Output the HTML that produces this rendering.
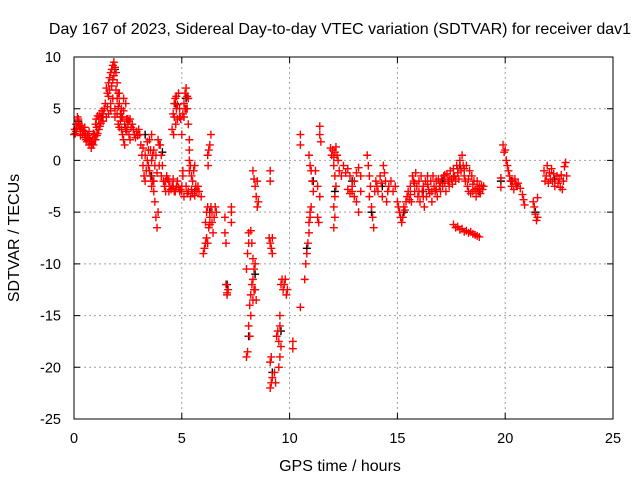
<!DOCTYPE html>
<html><head><meta charset="utf-8">
<style>
html,body{margin:0;padding:0;background:#fff;}
svg{display:block;font-family:"Liberation Sans",sans-serif;}
</style></head>
<body>
<svg id="chart" width="640" height="480" viewBox="0 0 640 480" xmlns="http://www.w3.org/2000/svg">
<rect width="640" height="480" fill="#fff"/>
<text x="340" y="34" text-anchor="middle" font-size="16">Day 167 of 2023, Sidereal Day-to-day VTEC variation (SDTVAR) for receiver dav1</text>
<text x="340" y="471" text-anchor="middle" font-size="16">GPS time / hours</text>
<text transform="translate(19,238) rotate(-90)" text-anchor="middle" font-size="16">SDTVAR / TECUs</text>
<g id="grid"></g>
<g id="ticks"></g>
<g id="black"></g>
<g id="red"></g>
<rect x="74" y="57" width="539" height="362" fill="none" stroke="#000" stroke-width="1"/>
</svg>
<script>
const xTicks = [0,5,10,15,20,25];
const yTicks = [10,5,0,-5,-10,-15,-20,-25];
const redPoints = [
[0,2.5],[0.03,3],[0.06,2.6],[0.1,3.5],[0.13,3.1],[0.16,4.2],[0.2,4],[0.23,3.6],[0.26,3.3],[0.3,3],[0.33,3.4],[0.36,3.2],[0.4,2.5],[0.43,2.9],[0.46,2.8],[0.5,2.2],[0.53,2.6],[0.56,2],[0.6,1.8],[0.63,2.4],[0.66,2.2],[0.7,1.5],[0.73,2],[0.76,1.8],[0.8,1.2],[0.83,1.6],[0.86,2],[0.9,1.5],[0.93,2],[0.96,2.5],[1,3.5],[1,2],[1.03,4],[1.06,2.4],[1.1,4.3],[1.1,2.6],[1.15,4],[1.15,3],[1.2,4.5],[1.2,3.3],[1.25,4.2],[1.3,4.8],[1.35,4.5],[1.4,5],[1.45,5.5],[1.5,7],[1.5,4.2],[1.55,6.5],[1.6,7.5],[1.6,4.5],[1.65,8],[1.7,8.5],[1.7,5.5],[1.75,8.8],[1.8,9.2],[1.8,6],[1.85,9.5],[1.9,9],[1.9,5],[1.95,8.5],[2,7.5],[2,4.5],[2.05,6.5],[2.05,3.5],[2.1,5.5],[2.1,6.5],[2.15,4.5],[2.2,3],[2.2,5],[2.25,2.5],[2.3,2],[2.3,6],[2.35,1.5],[2.4,3],[2.4,5.5],[2.45,4],[2.5,3.5],[2.5,4],[2.55,2.5],[2.6,4],[2.6,2],[2.65,3.2],[2.7,3.5],[2.75,3],[2.8,2.5],[2.85,2.2],[2.9,2.8],[2.95,2.4],[3,3],
[0.1,2.8],[0.3,2.4],[0.5,3.2],[0.7,2.8],[0.9,2.6],[1.05,3.2],[1.25,3.6],[1.35,3.8],[1.55,5.2],[1.6,6.2],[1.65,6.8],[1.75,7.2],[1.8,7.8],[1.85,8.2],[1.95,6.8],[2,6],[2.05,5.2],[2.15,3.8],[2.25,4.2],[2.35,3.5],[2.45,2.8],[2.55,3.8],[1.7,4.8],[1.9,4.2],[2.1,3.2],[2.2,4.2],[2.3,4.8],
[3.05,2.5],[3.1,1.5],[3.15,0.5],[3.2,-0.5],[3.25,-1.5],[3.3,-2],[3.35,-1],[3.4,0],[3.45,1],[3.5,2],[3.5,-1],[3.55,1],[3.6,0],[3.6,2.5],[3.6,-2.5],[3.65,-2],[3.7,-3],[3.7,1],[3.7,-2],[3.75,-4],[3.8,-5.5],[3.8,0.5],[3.85,-6.5],[3.9,-5],[3.9,2],[3.95,1.5],[4,1.5],[4.05,0.5],[4.1,-0.5],[4.15,-2],[4.2,-2.5],[4.25,-2],[4.3,-1.5],[4.35,-1.8],[4.4,-2],[4.45,-2.5],[4.5,-2.8],[4.55,-2.5],[4.6,-2.5],[4.65,-3],[4.7,-3],[4.75,-2.5],[4.8,-2],[4.85,-2.6],[4.9,-3],[4.95,-2.8],[5,-2.5],[5.05,-1.5],
[3.2,1.2],[3.3,0.5],[3.4,1.8],[3.45,-0.5],[3.55,-1.5],[3.65,0.5],[3.75,-0.5],[3.85,-1.2],[3.95,-0.5],[4.05,-1.5],[4.25,-3],[4.4,-3],[4.6,-1.8],
[4.55,3],[4.6,4.5],[4.62,2.5],[4.65,5.5],[4.7,6],[4.72,3.5],[4.75,5],[4.8,4],[4.85,6.5],[4.9,5],[4.95,4],[5,2.5],[5.05,-1],[5.1,5.5],[5.15,6.5],[5.2,7],[5.2,5],[5.25,5],[5.3,3.5],[5.3,6],[5.35,2],[5.35,1],[5.35,0],[5.35,-1],[5.4,-0.5],[5.45,-1.5],[5.5,-2],[5.55,-1],[5.6,-0.5],[5.65,-2.5],[5.7,-3],[5.8,-3],[5.9,-3.5],[5,-3],[5.1,-3.5],[5.2,-2.5],[5.3,-3],[5.4,-3.5],[5.5,-3.2],[5.6,-3.4],
[4.65,4.2],[4.75,6.2],[4.8,5.4],[4.9,4.2],[5.05,4.5],[5.1,4.2],[5.25,6.2],[5.15,5],[5.25,-3.2],[5.45,-2.8],[5.75,-2.5],
[6,-9],[6.05,-8.5],[6.1,-8],[6.1,-6],[6.15,-7.5],[6.15,-5],[6.2,-8],[6.2,-4.5],[6.25,-6.5],[6.3,-5.5],[6.35,-4.5],[6.4,-6],[6.45,-7],[6.5,-5.5],[6.55,-4.5],[6.6,-5],[6.2,0.5],[6.22,-0.5],[6.25,1],[6.3,1.5],[6.35,2.5],[6.3,-6.2],[6.4,-5],
[7,-5.5],[7,-7],[7.05,-8],[7.05,-12],[7.1,-13],[7.15,-12.5],[7.1,-12.8],[7.3,-4.5],[7.3,-6],[7.3,-5],
[8,-10.5],[8.05,-9],[8.1,-8],[8.1,-7],[8.2,-6.8],[8.25,-8],[8.3,-9.5],[8.35,-10.5],[8.4,-10],[8.15,-14],[8.2,-13],[8.25,-12],[8.3,-11.5],[8.35,-12.5],[8.1,-16],[8.05,-18.5],[8,-19],[8.15,-17],[8.2,-15],[8.3,-13.5],[8.4,-12.5],[8.45,-13.5],[8.3,-1],[8.35,-1.8],[8.4,-2.5],[8.45,-3.5],[8.5,-4.5],[8.55,-4],[8.5,-2],
[9.1,-1],[9.1,-2],[9.05,-7.5],[9.1,-8],[9.15,-8.5],[9.2,-9],[9.2,-7.5],[9.1,-19.5],[9.15,-19],[9.1,-22],[9.15,-21.5],[9.2,-21],[9.3,-20.5],[9.35,-21.5],[9.4,-17],[9.45,-16.5],[9.5,-17.5],[9.55,-16],[9.5,-20],[9.55,-19],[9.6,-18],[9.55,-15],[9.6,-12],[9.65,-11.5],[9.7,-12.5],[9.75,-12],[9.8,-11.5],[9.85,-13],[9.9,-12.5],[10.15,-17.5],[10.15,-18.2],[10.5,-14.2],
[10.5,2.5],[10.5,1.5],[10.7,-11.5],[10.75,-10],[10.8,-9],[10.85,-8],[10.9,-7],[10.9,-6],[10.95,-5],[10.95,-5.5],[11,-4.5],[10.9,0.5],[10.95,-0.5],[11,-1],[11.05,-2],[11.1,-3],[11.2,-1],[11.3,-2.5],[11.4,-3.5],[11.4,3.3],[11.4,2.5],[11.45,1.8],[11.3,-5.5],[11.35,-6],
[11.9,1.2],[11.95,0.5],[12,1],[12.05,0.3],[12.1,0.8],[12.15,1.3],[12.2,0.5],[12.25,0],[12.05,-0.5],[12.1,-1.5],[12.15,-2.5],[12.1,-3.5],[12.05,-4.5],[12.1,-5.5],[12.05,-6.5],[12.3,-1],[12.4,-1.5],[12.5,-0.5],[12.6,-1.2],[12.7,-0.8],[12.8,-1.5],[12.9,-2.5],[13,-2],[13.1,-1.2],[13.2,-0.7],[13.3,-1.5],[12.7,-2.8],[12.8,-3.2],[12.9,-3],[13,-3.5],[13.1,-4],[13.2,-5],[13.3,-3],
[13.6,0.5],[13.65,-0.5],[13.7,-1.5],[13.75,-2.5],[13.7,-3.5],[13.8,-4.5],[13.85,-5.5],[13.9,-6.5],[13.95,-3],[14,-2],[14.05,-2.5],[14.1,-3],[14.2,-1.5],[14.25,-2.2],[14.3,-3.5],[14.35,-0.5],[14.4,-1.2],[14.45,-2],[14.5,-4],[14.55,-3],[14.6,-2.5],[14.7,-2],[14.8,-3],[14.9,-2.5],
[15,-4],[15.05,-4.5],[15.1,-5],[15.15,-5.5],[15.2,-6],[15.25,-5.5],[15.3,-4.5],[15.35,-4.8],[15.4,-4],[15.45,-3.5],[15.5,-3],[15.55,-3.8],[15.6,-2.5],[15.65,-4],[15.7,-1.5],[15.75,-2],[15.8,-3],[15.85,-1.2],[15.9,-2.5],[15.95,-3.5],[16,-2],[16.05,-4],[16.1,-1.5],[16.15,-3],[16.2,-2.5],[16.25,-4.5],[16.3,-2],[16.35,-3.5],[16.4,-1.5],[16.45,-2.8],[16.5,-3.2],[16.55,-2],[16.6,-4],[16.65,-1.5],[16.7,-2.5],[16.75,-3],[16.8,-2],[16.85,-3.5],[16.9,-1.8],[16.95,-2.5],[17,-3],[17.05,-1.8],[17.1,-2.5],[17.15,-1.5],[17.2,-2.2],[17.25,-3],[17.3,-1.3],[17.35,-2],[17.4,-2.5],[17.45,-1],[17.5,-1.8],[17.55,-2.3],[17.6,-0.8],[17.65,-1.5],[17.7,-2],[17.75,-0.5],[17.8,-1.2],[17.85,-1.8],[17.9,0],[17.95,-1],[18,0.5],[18.05,-0.5],[18.1,-1.5],[18.15,-2],[18.2,-0.5],[18.25,-2.5],[18.3,-3],[18.35,-1],[18.4,-3.2],[18.45,-1.5],[18.5,-3],[18.55,-2],[18.6,-2.8],[18.65,-3.5],[18.7,-2],[18.75,-3],[18.8,-2.5],[18.85,-3.2],[18.9,-2.4],[18.95,-2.8],[19,-2.5],
[15.6,-3.3],[15.8,-2.2],[16,-3],[16.2,-3.5],[16.4,-2.3],[16.6,-3],[16.8,-2.8],[17,-2.2],[17.2,-1.4],[17.4,-1.8],[17.6,-1.6],[17.8,-0.8],[18.1,-0.8],[18.3,-1.8],[18.5,-2.3],[18.7,-2.7],
[17.6,-6.2],[17.7,-6.5],[17.8,-6.4],[17.9,-6.7],[18,-6.6],[18.1,-6.9],[18.2,-6.8],[18.3,-7],[18.4,-6.9],[18.5,-7.1],[18.6,-7.2],[18.7,-7.3],[18.8,-7.4],
[19.8,-1.7],[19.8,-2.6],[19.9,1.5],[19.95,0.8],[20,1],[20.05,0],[20.1,-0.5],[20.15,-1],[20.2,-1.5],[20.25,-2],[20.3,-2.5],[20.35,-2],[20.4,-2.8],[20.45,-1.8],[20.5,-2.3],[20.55,-2.5],[20.6,-2.2],[20.7,-2.7],
[20.8,-3.3],[20.85,-3.8],[20.9,-4.3],[21.3,-4],[21.35,-4.5],[21.4,-5.2],[21.45,-5.8],[21.5,-5.5],[21.5,-3.6],
[21.8,-1],[21.85,-2],[21.9,-1.5],[21.95,-0.5],[22,-2.2],[22.05,-1.2],[22.1,-1.8],[22.15,-0.8],[22.2,-2],[22.25,-1.3],[22.3,-2.5],[22.4,-1.5],[22.45,-2.2],[22.5,-1.8],[22.55,-2.6],[22.6,-1.4],[22.65,-2.8],[22.7,-2],[22.75,-0.6],[22.8,-0.2],[22.85,-1.5]
];
const blackPoints = [
[0.2,3.8],[0.8,1.8],[1.3,4.2],[1.9,8.8],[2.4,3.2],[3.3,2.5],[3.6,-1.5],[4.1,0.8],[4.7,5.5],[5.2,6],[5.6,-3],[6.3,-5],[7.1,-12],[8.1,-17],[8.4,-11],[9.2,-20.5],[9.6,-16.5],[10.8,-8.5],[11.1,-2],[12.1,-3],[12.9,-2],[13.8,-5],[14.3,-2.5],[15.3,-5],[16.2,-3],[17.1,-2],[17.9,-0.5],[18.8,-3],[19.8,-2],[20.3,-2],[21.4,-5],[22.3,-1.8]
];
const NS='http://www.w3.org/2000/svg';
const X0=74,X1=613,Y0=419,Y1=57;
function xs(t){return X0+(t-0)/(25-0)*(X1-X0);}
function ys(v){return Y0-(v-(-25))/(10-(-25))*(Y0-Y1);}
const grid=document.getElementById('grid');
const ticks=document.getElementById('ticks');
function mk(tag,attrs,parent){const e=document.createElementNS(NS,tag);for(const k in attrs)e.setAttribute(k,attrs[k]);parent.appendChild(e);return e;}
xTicks.forEach(t=>{
  const x=xs(t);
  if(t>0&&t<25){const g=mk('line',{x1:x,y1:Y0,x2:x,y2:Y1,stroke:'#a0a0a0','stroke-dasharray':'2,3','stroke-width':1},grid);
  
  }
  const tk=mk('path',{d:`M${x},${Y0}v-6M${x},${Y1}v6`,stroke:'#000'},ticks);
  
  
  const lb=mk('text',{x:x,y:443,'text-anchor':'middle','font-size':14.5},ticks);
  lb.textContent=t;
  
  
});
yTicks.forEach(v=>{
  const y=ys(v);
  if(v>-25&&v<10){const g=mk('line',{x1:X0,y1:y,x2:X1,y2:y,stroke:'#a0a0a0','stroke-dasharray':'2,3','stroke-width':1},grid);
  
  }
  const tk=mk('path',{d:`M${X0},${y}h6M${X1},${y}h-6`,stroke:'#000'},ticks);
  
  
  const lb=mk('text',{x:61,y:y+5,'text-anchor':'end','font-size':14.5},ticks);
  lb.textContent=v;
  
  
});
function drawSeries(pts,gid,color){
  const g=document.getElementById(gid);
  pts.forEach(p=>{
    const x=xs(p[0]),y=ys(p[1]);
    const m=mk('path',{d:`M${x-4},${y}h8M${x},${y-4}v8`,stroke:color,'stroke-width':1.4,fill:'none'},g);
    
    
  });
}
drawSeries(blackPoints,'black','#000');
drawSeries(redPoints,'red','#ff0000');
</script>
</body></html>
